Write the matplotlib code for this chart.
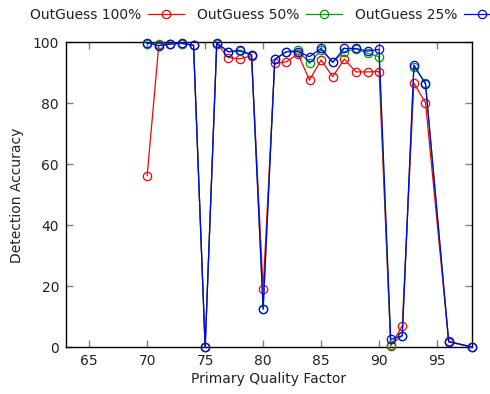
import matplotlib
matplotlib.use("Agg")
import matplotlib.pyplot as plt

# primary quality factors (no 95, 97 in the data)
quality = [70, 71, 72, 73, 74, 75, 76, 77, 78, 79, 80, 81, 82, 83, 84, 85,
           86, 87, 88, 89, 90, 91, 92, 93, 94, 96, 98]

acc_100 = [56.3, 99.0, 99.6, 99.6, 99.0, 0.0, 99.6, 95.0, 94.6, 95.6, 19.1,
           93.1, 93.6, 96.2, 87.6, 94.2, 88.7, 94.5, 90.3, 90.3, 90.4, 0.5,
           7.1, 86.6, 80.2, 2.0, 0.0]
acc_50 = [99.6, 99.6, 99.6, 99.6, 99.0, 0.0, 99.6, 96.9, 97.0, 95.8, 12.5,
          94.4, 96.9, 97.5, 93.1, 97.5, 93.6, 96.9, 97.8, 96.4, 95.3, 0.8,
          3.8, 92.0, 86.8, 1.8, 0.0]
acc_25 = [99.8, 98.9, 99.4, 99.8, 99.0, 0.0, 99.8, 96.9, 97.4, 96.0, 12.5,
          94.4, 96.9, 96.9, 95.3, 98.0, 93.4, 98.0, 98.0, 97.1, 97.7, 2.6,
          3.8, 92.6, 86.3, 1.8, 0.2]

series = [
    ("OutGuess 100%", acc_100, "#ff0000"),
    ("OutGuess 50%", acc_50, "#00a000"),
    ("OutGuess 25%", acc_25, "#0000ff"),
]

fig = plt.figure(figsize=(4.9, 3.94), dpi=100)
ax = fig.add_axes([0.1347, 0.1185, 0.963 - 0.1347, 0.8926 - 0.1185])

for label, vals, col in series:
    ax.plot(quality, vals, color=col, lw=0.9, marker="o", markersize=6,
            markerfacecolor="none", markeredgecolor=col, markeredgewidth=0.9,
            label=label, clip_on=False, zorder=3)

ax.set_xlim(63, 98)
ax.set_ylim(0, 100)
ax.set_xticks([65, 70, 75, 80, 85, 90, 95])
ax.set_yticks([0, 20, 40, 60, 80, 100])
ax.tick_params(direction="in", length=5, width=1, color="#808080",
               top=True, right=True, labelsize=10, labelcolor="#222222", pad=5)
for s in ax.spines.values():
    s.set_linewidth(1.0)
    s.set_color("black")

ax.set_xlabel("Primary Quality Factor", fontsize=10, color="#222222", labelpad=3)
ax.set_ylabel("Detection Accuracy", fontsize=10, color="#222222", labelpad=6)

fig.legend(loc="center left", bbox_to_anchor=(30 / 490, 0.962), ncol=3,
           frameon=False, fontsize=10, markerfirst=False, handlelength=2.6,
           handletextpad=0.5, columnspacing=0.9, borderpad=0, borderaxespad=0,
           labelcolor="#222222")

fig.savefig("out.png", dpi=100)
